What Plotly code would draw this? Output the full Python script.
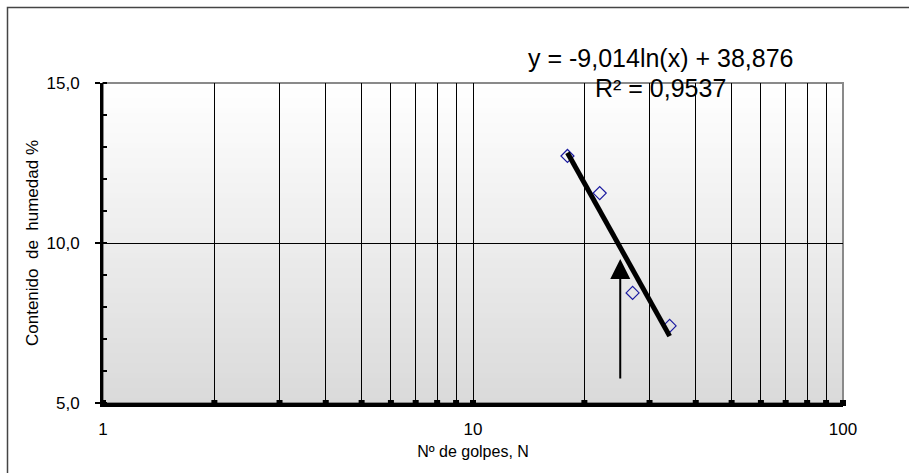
import numpy as np
import plotly.graph_objects as go

# Ensayo de límite líquido: golpes vs contenido de humedad
golpes = [18, 22, 27, 34]
humedad = [12.72, 11.56, 8.44, 7.41]

# Ajuste logarítmico reportado
coef_a = -9.014
coef_b = 38.876
r2_text = "R² = 0,9537"
eq_text = "y = -9,014ln(x) + 38,876"

# Límite líquido a 25 golpes (flecha)
golpes_ll = 25
flecha_tip = 9.5
flecha_cola = 5.72

x_grid = [1, 2, 3, 4, 5, 6, 7, 8, 9, 10, 20, 30, 40, 50, 60, 70, 80, 90, 100]
x_labels = ["1", "", "", "", "", "", "", "", "", "10", "", "", "", "", "", "", "", "", "100"]

W, H = 909, 473
ML, MR, MT, MB = 103, 66, 83, 70
PW = W - ML - MR
PH = H - MT - MB


def px_x(p):
    return (p - ML) / PW


def px_y(p):
    return (H - MB - p) / PH


FONT = "Liberation Sans, Arial, sans-serif"

fig = go.Figure()

# Marcas cuadradas sobre el eje X
fig.add_trace(go.Scatter(
    x=x_grid, y=[5] * len(x_grid), mode="markers",
    marker=dict(symbol="square", size=6, color="black"),
    cliponaxis=False, hoverinfo="skip", showlegend=False,
))

# Puntos del ensayo
fig.add_trace(go.Scatter(
    x=golpes, y=humedad, mode="markers",
    marker=dict(symbol="diamond-open", size=10, color="#1a1aa0", line=dict(width=1.2)),
    showlegend=False,
))

# Línea de tendencia logarítmica
xt = np.linspace(min(golpes), max(golpes), 50)
yt = coef_a * np.log(xt) + coef_b
fig.add_trace(go.Scatter(
    x=xt, y=yt, mode="lines",
    line=dict(color="black", width=5),
    showlegend=False, hoverinfo="skip",
))

# Fondo degradado del área de trazado
shapes = []
n = 64
for i in range(n):
    t = i / (n - 1)
    g = int(round(255 - (255 - 218) * (1 - t)))
    shapes.append(dict(
        type="rect", xref="x domain", yref="y domain",
        x0=0, x1=1, y0=i / n, y1=(i + 1) / n,
        fillcolor=f"rgb({g},{g},{g})", line=dict(width=0), layer="below",
    ))
# Borde gris del área de trazado
shapes.append(dict(
    type="rect", xref="x domain", yref="y domain", x0=0, x1=1, y0=0, y1=1,
    line=dict(color="#8a8a8a", width=2), layer="below",
))
# Marco exterior del gráfico
shapes.append(dict(
    type="rect", xref="paper", yref="paper",
    x0=px_x(7.5), x1=px_x(930), y0=px_y(500), y1=px_y(7.5),
    line=dict(color="#444444", width=1.5), layer="below",
))

annotations = [
    dict(text=eq_text, xref="paper", yref="paper", x=px_x(660), y=px_y(58),
         showarrow=False, font=dict(family=FONT, size=25, color="black"),
         xanchor="center", yanchor="middle"),
    dict(text=r2_text, xref="paper", yref="paper", x=px_x(660), y=px_y(88),
         showarrow=False, font=dict(family=FONT, size=25, color="black"),
         xanchor="center", yanchor="middle"),
    dict(x=np.log10(golpes_ll), y=flecha_tip, ax=np.log10(golpes_ll), ay=flecha_cola,
         xref="x", yref="y", axref="x", ayref="y", text="", showarrow=True,
         arrowhead=2, arrowsize=2, arrowwidth=2, arrowcolor="black"),
]

fig.update_layout(
    width=W, height=H,
    margin=dict(l=ML, r=MR, t=MT, b=MB, autoexpand=False),
    paper_bgcolor="white", plot_bgcolor="rgba(0,0,0,0)",
    separators=",.",
    font=dict(family=FONT, size=15, color="black"),
    shapes=shapes, annotations=annotations,
    xaxis=dict(
        type="log", range=[0, 2], tickmode="array", tickvals=x_grid, ticktext=x_labels,
        showgrid=True, gridcolor="black", gridwidth=1,
        showline=True, linecolor="black", linewidth=4,
        ticks="", ticklabelstandoff=8, zeroline=False,
        title=dict(text="Nº de golpes, N", standoff=8, font=dict(size=16)),
        tickfont=dict(size=17),
    ),
    yaxis=dict(
        range=[5, 15], dtick=5, tick0=5, tickformat=".1f",
        showgrid=True, gridcolor="black", gridwidth=1,
        showline=True, linecolor="black", linewidth=3,
        ticks="outside", ticklen=5, tickwidth=2, tickcolor="black",
        ticklabelstandoff=12,
        minor=dict(dtick=1, ticks="inside", ticklen=4, tickwidth=1.5, tickcolor="black", showgrid=False),
        zeroline=False,
        title=dict(text="Contenido  de  humedad %", standoff=4, font=dict(size=17)),
        tickfont=dict(size=17),
    ),
)

fig.write_html("out.html")
